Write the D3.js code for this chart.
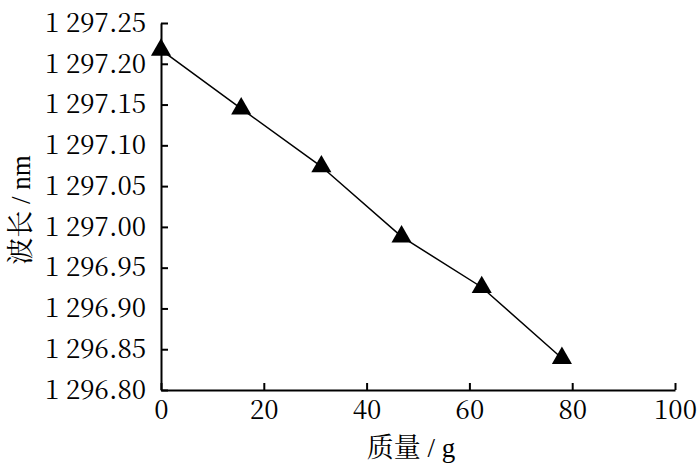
<!DOCTYPE html>
<html>
<head>
<meta charset="utf-8">
<script src="https://cdn.jsdelivr.net/npm/d3@7"></script>
<style>
  body { margin: 0; background: #fff; }
</style>
</head>
<body>
<svg id="chart" width="700" height="466"></svg>
<script>
// mass (g) vs wavelength (nm)
var mass = [0, 15.6, 31.2, 46.8, 62.4, 78];
var wavelength = [1297.217, 1297.145, 1297.074, 1296.988, 1296.926, 1296.839];
var xTicks = [0, 20, 40, 60, 80, 100];
var yTicks = [1296.80, 1296.85, 1296.90, 1296.95, 1297.00, 1297.05, 1297.10, 1297.15, 1297.20, 1297.25];
var xTitle = ["质量", " / g"];
var yTitle = ["波长", " / nm"];

var NUM_FONT = "'Noto Serif CJK SC', 'Noto Serif', serif";
var CJK_FONT = "'Noto Serif CJK SC', serif";
var LATIN_FONT = "'Liberation Serif', 'Times New Roman', serif";

var svg = d3.select("#chart"),
    MARGINS = { top: 23, right: 25, bottom: 76, left: 161 },
    WIDTH = 700, HEIGHT = 466;

var x = d3.scaleLinear().domain([0, 100]).range([MARGINS.left, WIDTH - MARGINS.right]);
var y = d3.scaleLinear().domain([1296.80, 1297.25]).range([HEIGHT - MARGINS.bottom, MARGINS.top]);

// thousands separated by a space, two decimals
function fmtY(v) {
  var s = v.toFixed(2);
  return s.slice(0, 1) + " " + s.slice(1);
}

var xAxis = d3.axisBottom(x).tickValues(xTicks).tickSizeInner(-7).tickSizeOuter(0).tickPadding(11);
var yAxis = d3.axisLeft(y).tickValues(yTicks).tickSizeInner(-7).tickSizeOuter(0).tickPadding(15).tickFormat(fmtY);

var gx = svg.append("g")
  .attr("transform", "translate(0," + (HEIGHT - MARGINS.bottom) + ")")
  .call(xAxis);
var gy = svg.append("g")
  .attr("transform", "translate(" + MARGINS.left + ",0)")
  .call(yAxis);

[gx, gy].forEach(function (g) {
  g.attr("font-family", null).attr("font-size", null);
  g.select(".domain").attr("stroke", "#000").attr("stroke-width", 2);
  g.selectAll(".tick line").attr("stroke", "#000").attr("stroke-width", 2);
  g.selectAll(".tick text").style("font-family", NUM_FONT).style("font-size", "26px").attr("fill", "#000");
});

var pts = mass.map(function (m, i) { return [m, wavelength[i]]; });

svg.append("path")
  .datum(pts)
  .attr("fill", "none")
  .attr("stroke", "#000")
  .attr("stroke-width", 1.5)
  .attr("d", d3.line().x(function (d) { return x(d[0]); }).y(function (d) { return y(d[1]); }));

svg.selectAll(".mark")
  .data(pts)
  .enter().append("path")
  .attr("class", "mark")
  .attr("transform", function (d) { return "translate(" + x(d[0]) + "," + y(d[1]) + ")"; })
  .attr("d", d3.symbol().type(d3.symbolTriangle).size(175))
  .attr("fill", "#000");

// titles: CJK part in a Song face, the unit in a Times face
function title(sel, parts) {
  sel.attr("text-anchor", "middle").style("font-size", "27px").attr("fill", "#000");
  sel.append("tspan").style("font-family", CJK_FONT).text(parts[0]);
  sel.append("tspan").style("font-family", LATIN_FONT).style("white-space", "pre").text(parts[1]);
}

svg.append("text")
  .attr("x", 411)
  .attr("y", 457)
  .call(title, xTitle);

svg.append("text")
  .attr("transform", "translate(30," + 210 + ") rotate(-90)")
  .call(title, yTitle);
</script>
</body>
</html>
